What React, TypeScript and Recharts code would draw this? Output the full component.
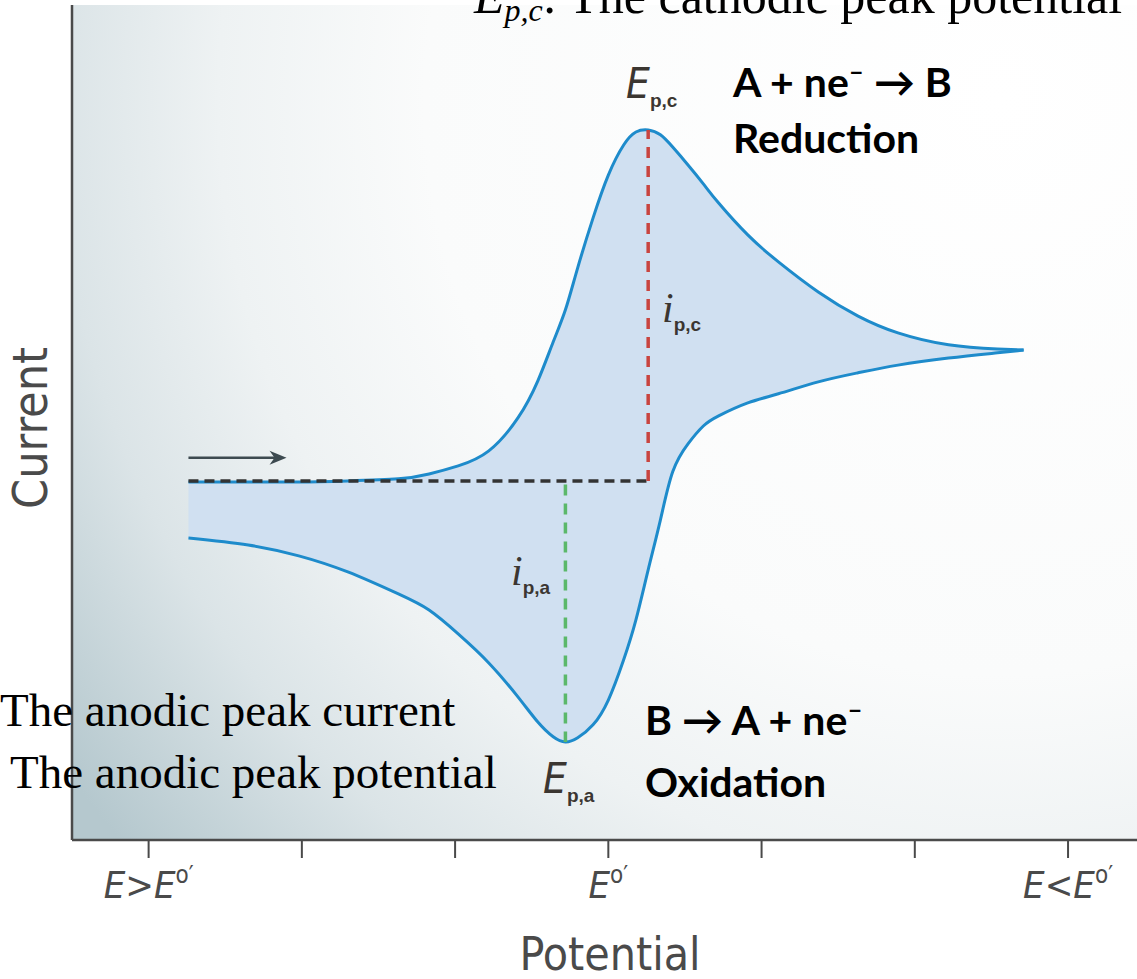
import React from "react";
import {
  ComposedChart,
  Area,
  XAxis,
  YAxis,
  CartesianGrid,
  ReferenceLine,
} from "recharts";

// potential in tick units (E°' = 0), current in arbitrary units
const potential = [
  -2.74, -2.35, -2.02, -1.7, -1.37, -1.17, -0.98, -0.78, -0.59, -0.46, -0.36,
  -0.28, -0.2, -0.1, 0, 0.1, 0.18, 0.26, 0.34, 0.42, 0.52, 0.62, 0.72, 0.91,
  1.11, 1.37, 1.63, 1.89, 2.22, 2.54, 2.71,
];
// forward scan (reduction, upper branch)
const forwardCurrent = [
  -0.03, -0.03, -0.03, 0, 0.06, 0.2, 0.43, 0.86, 1.8, 2.86, 3.97, 4.89, 6.09,
  7.51, 8.74, 9.6, 9.97, 10.03, 9.89, 9.54, 9.03, 8.49, 7.94, 7.03, 6.26, 5.4,
  4.71, 4.23, 3.89, 3.77, 3.74,
];
// reverse scan (oxidation, lower branch)
const reverseCurrent = [
  -1.63, -1.83, -2.14, -2.6, -3.23, -3.69, -4.37, -5.2, -6.17, -6.89, -7.31,
  -7.46, -7.34, -6.97, -6.26, -5.11, -3.97, -2.54, -1.11, 0.26, 1.06, 1.57,
  1.86, 2.23, 2.49, 2.83, 3.09, 3.31, 3.51, 3.66, 3.74,
];
const tickValues = [-3, -2, -1, 0, 1, 2, 3];
const tickLabels = ["E>E°′", "", "", "E°′", "", "", "E<E°′"];
const scanArrow = { from: -2.74, to: -2.1, current: 0.66 };

const chartData = potential.map((E, k) => ({
  E,
  loop: [reverseCurrent[k], forwardCurrent[k]],
}));

const cIdx = forwardCurrent.indexOf(Math.max(...forwardCurrent));
const aIdx = reverseCurrent.indexOf(Math.min(...reverseCurrent));

const narrow = "'Liberation Sans Narrow', 'DejaVu Sans Condensed', sans-serif";
const serif = "'Liberation Serif', 'Times New Roman', serif";
const boldSans = "Lato, 'Open Sans', sans-serif";
const axisColor = "#4a4a4a";

function renderLabel(label: string) {
  const parts = label.split(/(E|°′)/).filter(Boolean);
  return parts.map((p, k) => {
    if (p === "E") return <tspan key={k} fontStyle="italic">E</tspan>;
    if (p === "°′")
      return (
        <tspan key={k} fontSize={24} dy={-15}>
          o′
        </tspan>
      );
    return <tspan key={k}>{p}</tspan>;
  });
}

const PotentialTick = (props: any) => {
  const { x, y, payload } = props;
  const label = tickLabels[tickValues.indexOf(payload.value)] || "";
  if (!label) return null;
  return (
    <text
      x={x}
      y={y + 38}
      textAnchor="middle"
      fontFamily={narrow}
      fontSize={38}
      fill={axisColor}
    >
      {renderLabel(label)}
    </text>
  );
};

const ArrowShape = (props: any) => {
  const { x1, y1, x2, y2 } = props;
  return (
    <g>
      <line x1={x1} y1={y1} x2={x2 - 6} y2={y2} stroke="#3d4a50" strokeWidth={2.5} />
      <path
        d={`M${x2},${y2} L${x2 - 17},${y2 - 7} L${x2 - 12},${y2} L${x2 - 17},${y2 + 7} Z`}
        fill="#3d4a50"
      />
    </g>
  );
};

function PeakLabel({ x, y, main, sub, mainFont }: any) {
  return (
    <text x={x} y={y} fill="#3b3631">
      <tspan fontFamily={mainFont} fontStyle="italic" fontSize={42}>
        {main}
      </tspan>
      <tspan fontFamily="'Liberation Sans', Arial, sans-serif" fontWeight={700} fontSize={19} dy={9}>
        {sub}
      </tspan>
    </text>
  );
}

export default function App() {
  return (
    <div style={{ position: "absolute", left: 0, top: 0, width: 1137, height: 979, background: "#fff" }}>
      <ComposedChart
        width={1137}
        height={979}
        data={chartData}
        margin={{ top: 5, right: 0, bottom: 0, left: 0 }}
      >
        <defs>
          <radialGradient id="plotBg" gradientUnits="userSpaceOnUse" cx={1000} cy={100} r={1150}>
            <stop offset="0" stopColor="#ffffff" />
            <stop offset="0.5" stopColor="#fafbfb" />
            <stop offset="0.68" stopColor="#eef2f3" />
            <stop offset="0.82" stopColor="#dbe4e7" />
            <stop offset="1" stopColor="#b5c8ce" />
          </radialGradient>
        </defs>
        <CartesianGrid horizontal={false} vertical={false} fill="url(#plotBg)" fillOpacity={1} />
        <XAxis
          dataKey="E"
          type="number"
          domain={[-3.5, 3.45]}
          ticks={tickValues}
          allowDataOverflow
          height={139}
          tickSize={18}
          axisLine={{ stroke: axisColor, strokeWidth: 2.5 }}
          tickLine={{ stroke: axisColor, strokeWidth: 2 }}
          tick={<PotentialTick />}
          interval={0}
        />
        <YAxis
          type="number"
          domain={[-10.26, 13.6]}
          allowDataOverflow
          width={72}
          tick={false}
          tickLine={false}
          axisLine={{ stroke: axisColor, strokeWidth: 2.5 }}
        />
        <Area
          dataKey="loop"
          type="natural"
          stroke="#1e8bcb"
          strokeWidth={3}
          fill="#d0e0f1"
          fillOpacity={1}
          dot={false}
          activeDot={false}
          isAnimationActive={false}
        />
        <ReferenceLine
          segment={[
            { x: potential[0], y: 0 },
            { x: potential[cIdx], y: 0 },
          ]}
          stroke="#333"
          strokeWidth={3.5}
          strokeDasharray="10 6"
        />
        <ReferenceLine
          segment={[
            { x: potential[cIdx], y: 0 },
            { x: potential[cIdx], y: forwardCurrent[cIdx] },
          ]}
          stroke="#c9443f"
          strokeWidth={3.5}
          strokeDasharray="11 8"
        />
        <ReferenceLine
          segment={[
            { x: potential[aIdx], y: -0.1 },
            { x: potential[aIdx], y: reverseCurrent[aIdx] },
          ]}
          stroke="#5bb86a"
          strokeWidth={3.5}
          strokeDasharray="11 8"
        />
        <ReferenceLine
          segment={[
            { x: scanArrow.from, y: scanArrow.current },
            { x: scanArrow.to, y: scanArrow.current },
          ]}
          shape={<ArrowShape />}
        />
      </ComposedChart>
      <svg
        width={1137}
        height={979}
        style={{ position: "absolute", left: 0, top: 0, pointerEvents: "none" }}
      >
        <text
          x={30}
          y={428}
          transform="rotate(-90 30 428)"
          textAnchor="middle"
          dominantBaseline="central"
          fontFamily={narrow}
          fontSize={48}
          fill={axisColor}
        >
          Current
        </text>
        <text x={610} y={970} textAnchor="middle" fontFamily={narrow} fontSize={46} fill={axisColor}>
          Potential
        </text>

        <text x={474} y={13} fontFamily={serif} fontSize={50} fill="#000">
          <tspan fontStyle="italic">E</tspan>
          <tspan fontStyle="italic" fontSize={32} dy={8}>p,c</tspan>
          <tspan dy={-8}>: The cathodic peak potential</tspan>
        </text>
        <text x={0} y={726} fontFamily={serif} fontSize={47} fill="#000">
          The anodic peak current
        </text>
        <text x={10} y={788} fontFamily={serif} fontSize={47} fill="#000">
          The anodic peak potential
        </text>

        <PeakLabel x={626} y={98} main="E" sub="p,c" mainFont={narrow} />
        <PeakLabel x={662} y={322} main="i" sub="p,c" mainFont={serif} />
        <PeakLabel x={511} y={585} main="i" sub="p,a" mainFont={serif} />
        <PeakLabel x={543} y={793} main="E" sub="p,a" mainFont={narrow} />

        <g fontFamily={boldSans} fontWeight={700} fontSize={41} fill="#000">
          <text x={733} y={97}>
            A + ne<tspan fontSize={26} dy={-16}>–</tspan>
            <tspan dy={16}> → B</tspan>
          </text>
          <text x={733} y={153}>Reduction</text>
          <text x={645} y={735}>
            B → A + ne<tspan fontSize={26} dy={-16}>–</tspan>
          </text>
          <text x={645} y={797}>Oxidation</text>
        </g>
      </svg>
    </div>
  );
}
